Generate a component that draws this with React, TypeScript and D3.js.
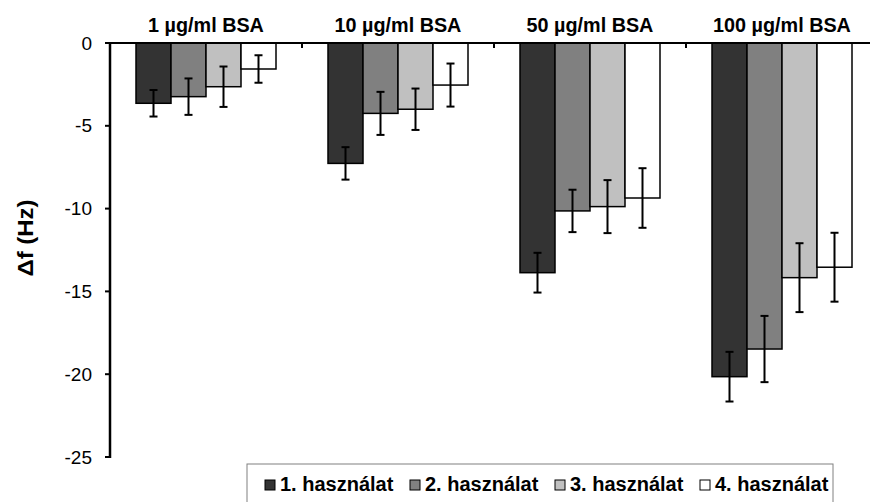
import React from "react";
import * as d3 from "d3";

const categories = ["1 µg/ml BSA", "10 µg/ml BSA", "50 µg/ml BSA", "100 µg/ml BSA"];
const seriesNames = ["1. használat", "2. használat", "3. használat", "4. használat"];
const seriesColors = ["#333333", "#808080", "#c0c0c0", "#ffffff"];

const use1 = [-3.64, -7.27, -13.87, -20.15];
const use2 = [-3.24, -4.25, -10.14, -18.48];
const use3 = [-2.64, -4.0, -9.88, -14.17];
const use4 = [-1.57, -2.54, -9.36, -13.54];

const err1 = [0.8, 0.98, 1.2, 1.5];
const err2 = [1.1, 1.3, 1.28, 2.0];
const err3 = [1.22, 1.25, 1.6, 2.08];
const err4 = [0.83, 1.3, 1.8, 2.08];

const yTicks = [0, -5, -10, -15, -20, -25];

const seriesValues = [use1, use2, use3, use4];
const seriesErrors = [err1, err2, err3, err4];

const W = 870;
const H = 502;
const FONT = "Arial, 'Liberation Sans', sans-serif";

export default function App() {
  const plotLeft = 110;
  const x = d3.scaleBand<string>().domain(categories).range([plotLeft, plotLeft + 192 * 4]).padding(0);
  const groupW = 140;
  const inner = d3.scaleBand<string>().domain(seriesNames).range([0, groupW]).padding(0);
  const y = d3.scaleLinear().domain([-25, 0]).range([457, 43]);
  const bw = x.bandwidth();
  const offset = (bw - groupW) / 2;

  return (
    <svg width={W} height={H} style={{ position: "absolute", left: 0, top: 0, background: "#fff" }} fontFamily={FONT}>
      <rect x={0} y={0} width={W} height={H} fill="#fff" />
      {/* bars */}
      {seriesNames.map((s, si) =>
        categories.map((c, ci) => {
          const v = seriesValues[si][ci];
          const bx = (x(c) as number) + offset + (inner(s) as number);
          return (
            <rect
              key={s + c}
              x={bx}
              y={y(0)}
              width={inner.bandwidth()}
              height={y(v) - y(0)}
              fill={seriesColors[si]}
              stroke="#000"
              strokeWidth={1.5}
            />
          );
        })
      )}
      {/* error bars */}
      {seriesNames.map((s, si) =>
        categories.map((c, ci) => {
          const v = seriesValues[si][ci];
          const e = seriesErrors[si][ci];
          const cx = (x(c) as number) + offset + (inner(s) as number) + inner.bandwidth() / 2;
          const y1 = y(v + e);
          const y2 = y(v - e);
          return (
            <g key={"e" + s + c} stroke="#000" strokeWidth={2}>
              <line x1={cx} x2={cx} y1={y1} y2={y2} />
              <line x1={cx - 4} x2={cx + 4} y1={y1} y2={y1} />
              <line x1={cx - 4} x2={cx + 4} y1={y2} y2={y2} />
            </g>
          );
        })
      )}
      {/* x axis at zero */}
      <line x1={plotLeft} x2={W} y1={y(0)} y2={y(0)} stroke="#000" strokeWidth={2} />
      {categories.slice(1).map((c) => (
        <line key={"xt" + c} x1={x(c) as number} x2={x(c) as number} y1={y(0)} y2={y(0) + 5} stroke="#000" strokeWidth={2} />
      ))}
      {/* y axis */}
      <line x1={plotLeft} x2={plotLeft} y1={y(0) - 1} y2={y(-25) + 1} stroke="#000" strokeWidth={2.5} />
      {yTicks.map((t) => (
        <g key={"yt" + t}>
          <line x1={plotLeft - 5} x2={plotLeft} y1={y(t)} y2={y(t)} stroke="#000" strokeWidth={2} />
          <text x={92} y={y(t)} dy="0.35em" textAnchor="end" fontSize={19} fill="#000">
            {t}
          </text>
        </g>
      ))}
      {/* category labels */}
      {categories.map((c) => {
        const cx = (x(c) as number) + bw / 2;
        return (
          <text key={"cl" + c} x={cx} y={31.5} textAnchor="middle" fontSize={19.8} fontWeight="bold" fill="#000">
            {c}
          </text>
        );
      })}
      {/* y title */}
      <text
        transform={`translate(33,238) rotate(-90)`}
        textAnchor="middle"
        fontSize={22}
        fontWeight="bold"
        fill="#000"
        textLength={77}
        lengthAdjust="spacingAndGlyphs"
      >
        Δf (Hz)
      </text>
      {/* legend */}
      <rect x={247} y={464} width={586} height={50} fill="#fff" stroke="#808080" strokeWidth={1} />
      {seriesNames.map((s, si) => {
        const lx = 265 + si * 145;
        return (
          <g key={"lg" + s}>
            <rect x={lx} y={480} width={10} height={10} fill={seriesColors[si]} stroke="#000" strokeWidth={1} />
            <text x={lx + 15} y={491} fontSize={20} fontWeight="bold" fill="#000">
              {s}
            </text>
          </g>
        );
      })}
    </svg>
  );
}
